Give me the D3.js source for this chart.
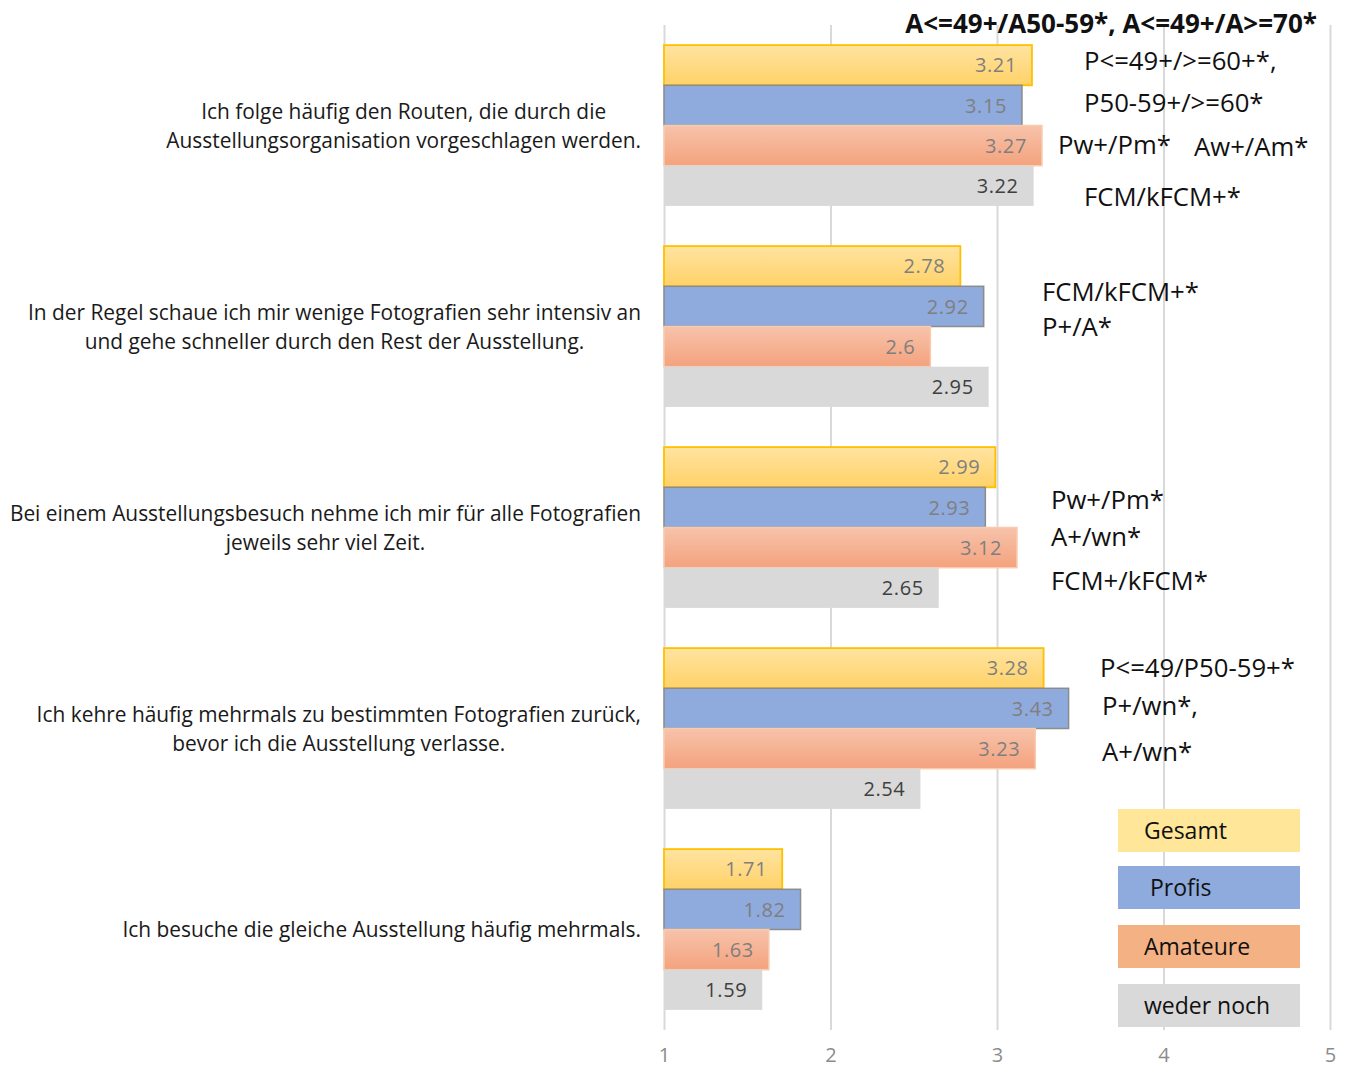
<!DOCTYPE html>
<html>
<head>
<meta charset="utf-8">
<script src="https://cdn.jsdelivr.net/npm/d3@7"></script>
<style>
  html, body { margin: 0; padding: 0; background: #fff; }
  svg { display: block; font-family: "Open Sans", Lato, sans-serif; }
</style>
</head>
<body>
<svg id="chart" width="1345" height="1068"></svg>
<script>
// Statements (each split into its display lines)
const categories = [
  ["Ich folge häufig den Routen, die durch die", "Ausstellungsorganisation vorgeschlagen werden."],
  ["In der Regel schaue ich mir wenige Fotografien sehr intensiv an", "und gehe schneller durch den Rest der Ausstellung."],
  ["Bei einem Ausstellungsbesuch nehme ich mir für alle Fotografien", "jeweils sehr viel Zeit."],
  ["Ich kehre häufig mehrmals zu bestimmten Fotografien zurück,", "bevor ich die Ausstellung verlasse."],
  ["Ich besuche die gleiche Ausstellung häufig mehrmals."]
];

const seriesNames = ["Gesamt", "Profis", "Amateure", "weder noch"];
const gesamt    = [3.21, 2.78, 2.99, 3.28, 1.71];
const profis    = [3.15, 2.92, 2.93, 3.43, 1.82];
const amateure  = [3.27, 2.6, 3.12, 3.23, 1.63];
const wederNoch = [3.22, 2.95, 2.65, 2.54, 1.59];

const xTicks = [1, 2, 3, 4, 5];

// Significance notes per statement
const headerNote = "A<=49+/A50-59*, A<=49+/A>=70*";
const notes1 = ["P<=49+/>=60+*,", "P50-59+/>=60*", "Pw+/Pm*", "Aw+/Am*", "FCM/kFCM+*"];
const notes2 = ["FCM/kFCM+*", "P+/A*"];
const notes3 = ["Pw+/Pm*", "A+/wn*", "FCM+/kFCM*"];
const notes4 = ["P<=49/P50-59+*", "P+/wn*,", "A+/wn*"];

const seriesValues = [gesamt, profis, amateure, wederNoch];

const svg = d3.select("#chart");

const x = d3.scaleLinear().domain([1, 5]).range([664, 1330]);
const catIdx = d3.range(categories.length);
const y = d3.scaleBand().domain(catIdx).range([25, 1030]).paddingInner(0.2).paddingOuter(0.1);
const ySub = d3.scaleBand().domain(seriesNames).range([0, y.bandwidth()]);

// Gradients for the two shaded series
const defs = svg.append("defs");
function vGrad(id, top, bottom) {
  const g = defs.append("linearGradient").attr("id", id)
    .attr("x1", 0).attr("y1", 0).attr("x2", 0).attr("y2", 1);
  g.append("stop").attr("offset", "0%").attr("stop-color", top);
  g.append("stop").attr("offset", "100%").attr("stop-color", bottom);
}
vGrad("gGesamt", "#FFE3A0", "#FFD268");
vGrad("gAmateure", "#F7C3AA", "#F4A27E");

const barStyle = {
  "Gesamt":     { fill: "url(#gGesamt)",   stroke: "#FFC000", sw: 1.8, label: "#7F7F7F" },
  "Profis":     { fill: "#8FAADC",         stroke: "#8C8C8C", sw: 1.5, label: "#7F7F7F" },
  "Amateure":   { fill: "url(#gAmateure)", stroke: "#F8CBAD", sw: 1.5, label: "#7F7F7F" },
  "weder noch": { fill: "#D9D9D9",         stroke: "none",    sw: 0,   label: "#404040" }
};
const legendFill = { "Gesamt": "#FFE699", "Profis": "#8FAADC", "Amateure": "#F4B183", "weder noch": "#D9D9D9" };

// Vertical gridlines and tick labels
const xAxis = d3.axisBottom(x).tickValues(xTicks).tickFormat(d3.format("d")).tickSize(-(1030 - 25)).tickPadding(18);
const ax = svg.append("g").attr("transform", "translate(0,1030)").call(xAxis);
ax.select(".domain").remove();
ax.selectAll(".tick line").attr("stroke", "#D9D9D9").attr("stroke-width", 2);
ax.selectAll(".tick text").attr("fill", "#8C8C8C").attr("font-size", 20).attr("font-family", "Open Sans, sans-serif");

// Bars
const rows = [];
catIdx.forEach(c => seriesNames.forEach((s, si) => rows.push({ c, s, v: seriesValues[si][c] })));

const bars = svg.append("g");
bars.selectAll("rect").data(rows).join("rect")
  .attr("x", x(1))
  .attr("y", d => y(d.c) + ySub(d.s))
  .attr("width", d => x(d.v) - x(1))
  .attr("height", ySub.bandwidth())
  .attr("fill", d => barStyle[d.s].fill)
  .attr("stroke", d => barStyle[d.s].stroke)
  .attr("stroke-width", d => barStyle[d.s].sw);

bars.selectAll("text").data(rows).join("text")
  .attr("x", d => x(d.v) - 15)
  .attr("y", d => y(d.c) + ySub(d.s) + ySub.bandwidth() / 2)
  .attr("dy", "0.36em")
  .attr("text-anchor", "end")
  .attr("font-size", 20)
  .attr("letter-spacing", 0.6)
  .attr("fill", d => barStyle[d.s].label)
  .text(d => String(d.v));

// Category labels: lines centred on each other, block right-aligned to the plot
const catG = svg.append("g");
catIdx.forEach(c => {
  const lines = categories[c];
  const g = catG.append("g");
  const lh = 29;
  const cy = y(c) + y.bandwidth() / 2;
  const texts = lines.map((ln, i) => g.append("text")
    .attr("y", cy + (i - (lines.length - 1) / 2) * lh)
    .attr("dy", "0.36em")
    .attr("text-anchor", "middle")
    .attr("font-size", 20.9)
    .attr("fill", "#1a1a1a")
    .text(ln));
  const maxW = d3.max(texts, t => t.node().getComputedTextLength());
  texts.forEach(t => t.attr("x", 641 - maxW / 2));
});

// Significance notes
const noteG = svg.append("g").attr("fill", "#111");
function note(txt, px, py, bold) {
  return noteG.append("text").attr("x", px).attr("y", py).attr("dy", "0.36em")
    .attr("font-weight", bold ? "bold" : null)
    .attr("font-size", bold ? 26 : 25.7)
    .text(txt);
}
const b0 = y(0), b1 = y(1), b2 = y(2), b3 = y(3);
note(headerNote, 1317, b0 - 21, true).attr("text-anchor", "end");
note(notes1[0], 1084, b0 + 16);
note(notes1[1], 1084, b0 + 58);
note(notes1[2], 1058, b0 + 100);
note(notes1[3], 1194, b0 + 102);
note(notes1[4], 1084, b0 + 152);
note(notes2[0], 1042, b1 + 46);
note(notes2[1], 1042, b1 + 81);
note(notes3[0], 1051, b2 + 53);
note(notes3[1], 1051, b2 + 90);
note(notes3[2], 1051, b2 + 134);
note(notes4[0], 1100, b3 + 20);
note(notes4[1], 1102, b3 + 58);
note(notes4[2], 1102, b3 + 104);

// Legend
const legG = svg.append("g");
const legTop = [809, 866, 925, 984];
seriesNames.forEach((s, i) => {
  legG.append("rect").attr("x", 1118).attr("y", legTop[i]).attr("width", 182).attr("height", 43)
    .attr("fill", legendFill[s]);
  legG.append("text").attr("x", s === "Profis" ? 1150 : 1144).attr("y", legTop[i] + 22).attr("dy", "0.36em")
    .attr("font-size", 23).attr("fill", "#111").text(s);
});
</script>
</body>
</html>
